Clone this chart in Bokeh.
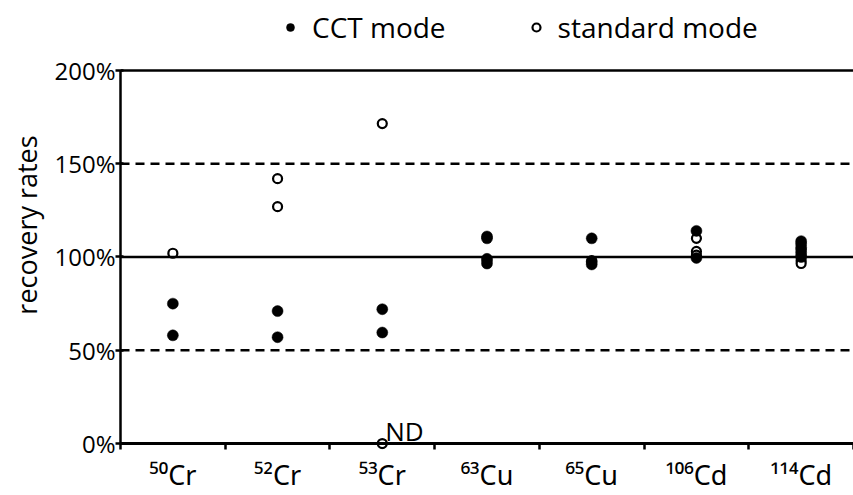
from bokeh.plotting import figure
from bokeh.models import (FixedTicker, PrintfTickFormatter, Span, Legend, LegendItem,
                          Label, CustomJSTickFormatter)
from bokeh.embed import file_html
from bokeh.resources import INLINE

# ---- data ----
categories = ["⁵⁰Cr", "⁵²Cr", "⁵³Cr", "⁶³Cu", "⁶⁵Cu", "¹⁰⁶Cd", "¹¹⁴Cd"]
cct_values = [
    [75, 58],
    [71, 57],
    [72, 59.5],
    [111, 110, 99, 96.5],
    [110, 97.5, 96],
    [114, 99.5],
    [108.5, 107, 105, 102.5, 100],
]
std_values = [
    [102],
    [142, 127],
    [171.5, 0],
    [98],
    [98],
    [110, 103, 101],
    [104, 101, 98, 96.5],
]
y_ticks = [0, 50, 100, 150, 200]
solid_lines = [0, 100, 200]
dashed_lines = [50, 150]
nd_category = 2
nd_text = "ND"
legend_labels = ["CCT mode", "standard mode"]

def flatten(vals):
    xs, ys = [], []
    for i, vs in enumerate(vals):
        for v in vs:
            xs.append(i + 0.5)
            ys.append(v)
    return xs, ys

cx, cy = flatten(cct_values)
sx, sy = flatten(std_values)

FONT = "Open Sans"

p = figure(width=853, height=495, output_backend="svg", toolbar_location=None,
           x_range=(0, len(categories)), y_range=(-3.2, 237.5),
           min_border_left=120, min_border_right=0, min_border_top=0, min_border_bottom=46)
p.outline_line_color = None
p.grid.visible = False
p.background_fill_color = "white"

# reference lines
for v in solid_lines:
    p.add_layout(Span(location=v, dimension="width", line_color="black",
                      line_width=3 if v == 0 else 2.5))
for v in dashed_lines:
    p.add_layout(Span(location=v, dimension="width", line_color="black", line_width=2.5,
                      line_dash="9 6"))

# points
r_std = p.scatter(x=sx, y=sy, size=9, marker="circle", fill_color="white",
                  line_color="black", line_width=2.2)
r_cct = p.scatter(x=cx, y=cy, size=11, marker="circle", fill_color="black",
                  line_color="black", line_width=0.5)

# ND label
p.add_layout(Label(x=nd_category + 0.5, y=0, text=nd_text, x_offset=3, y_offset=-5,
                   text_font=FONT, text_font_size="26px", text_color="black",
                   text_baseline="bottom", text_align="left"))

# axes
ya = p.yaxis[0]
ya.ticker = FixedTicker(ticks=y_ticks)
ya.formatter = PrintfTickFormatter(format="%d%%")
ya.bounds = (0, 200)
ya.axis_line_width = 2.5
ya.major_tick_line_width = 2.5
ya.major_tick_in = 3
ya.major_tick_out = 5
ya.minor_tick_line_color = None
ya.major_label_text_font = FONT
ya.major_label_text_font_size = "24px"
ya.major_label_text_color = "black"
ya.major_label_standoff = 0
ya.axis_label = "recovery rates"
ya.axis_label_text_font = FONT
ya.axis_label_text_font_size = "27px"
ya.axis_label_text_font_style = "normal"
ya.axis_label_text_color = "black"
ya.axis_label_standoff = 6

xa = p.xaxis[0]
centers = [i + 0.5 for i in range(len(categories))]
xa.ticker = FixedTicker(ticks=centers, minor_ticks=list(range(len(categories) + 1)))
xa.formatter = CustomJSTickFormatter(args=dict(labels=categories),
                                     code="return labels[Math.floor(tick)] || '';")
xa.axis_line_color = None
xa.major_tick_line_color = None
xa.minor_tick_line_color = "black"
xa.minor_tick_line_width = 2.5
xa.minor_tick_in = 6
xa.minor_tick_out = 0
xa.major_label_text_font = "Noto Sans"
xa.major_label_text_font_size = "27px"
xa.major_label_text_color = "black"
xa.major_label_standoff = 0

# legend placed inside the tall frame, above the 200% line
legend = Legend(items=[LegendItem(label=legend_labels[0], renderers=[r_cct]),
                       LegendItem(label=legend_labels[1], renderers=[r_std])],
                orientation="horizontal", location=(160, 403),
                label_text_font=FONT, label_text_font_size="28px", label_text_color="black",
                glyph_width=20, glyph_height=20, label_standoff=12, spacing=80,
                padding=0, margin=0, border_line_color=None, background_fill_alpha=0)
p.add_layout(legend, "center")

open("out.html", "w").write(file_html(p, INLINE))
